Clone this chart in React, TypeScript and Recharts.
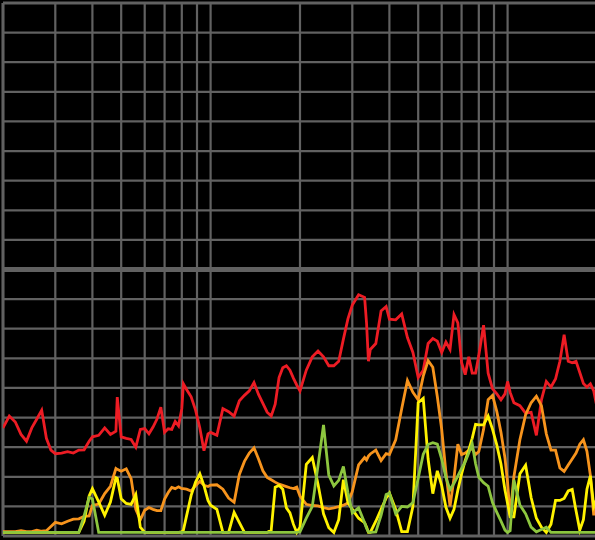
import React from 'react';
import { LineChart, Line, XAxis, YAxis, CartesianGrid, ReferenceLine } from 'recharts';

const FREQ = [20, 21, 22, 23, 24, 25, 26, 27, 28, 29, 30, 31.5, 33, 34.5, 36, 37.5, 39, 40, 42, 44, 46, 48, 48.5, 50, 52, 54, 56, 58, 60, 62, 64, 66, 68, 70, 72, 74, 76, 78, 80, 81, 83, 86, 89, 92, 95, 98, 100, 105, 110, 115, 120, 125, 130, 135, 140, 145, 150, 155, 160, 165, 170, 175, 180, 185, 190, 195, 200, 210, 220, 230, 240, 250, 260, 270, 280, 290, 300, 315, 330, 335, 340, 345, 360, 375, 390, 400, 420, 440, 460, 480, 500, 520, 540, 560, 580, 600, 620, 640, 660, 680, 700, 720, 740, 760, 780, 800, 830, 860, 890, 920, 950, 980, 1000, 1020, 1050, 1100, 1150, 1200, 1250, 1300, 1350, 1400, 1450, 1500, 1550, 1600, 1650, 1700, 1750, 1800, 1850, 1900, 1950, 2000];

const RED = [3.65, 4.05, 3.85, 3.43, 3.2, 3.65, 3.95, 4.25, 3.3, 2.9, 2.78, 2.8, 2.85, 2.8, 2.9, 2.91, 3.2, 3.35, 3.4, 3.65, 3.43, 3.54, 4.69, 3.35, 3.3, 3.26, 3.0, 3.6, 3.63, 3.45, 3.68, 3.95, 4.35, 3.5, 3.62, 3.6, 3.87, 3.72, 4.3, 5.14, 4.95, 4.7, 4.25, 3.65, 2.88, 3.45, 3.5, 3.4, 4.3, 4.2, 4.05, 4.57, 4.75, 4.9, 5.18, 4.78, 4.48, 4.18, 4.05, 4.45, 5.35, 5.68, 5.75, 5.6, 5.33, 5.1, 4.9, 5.6, 6.05, 6.25, 6.05, 5.75, 5.75, 5.9, 6.65, 7.33, 7.8, 8.15, 8.06, 7.2, 5.9, 6.3, 6.5, 7.6, 7.75, 7.32, 7.3, 7.5, 6.7, 6.2, 5.35, 5.6, 6.5, 6.67, 6.58, 6.2, 6.55, 6.3, 7.48, 7.2, 5.85, 5.45, 6.05, 5.5, 5.5, 6.1, 7.12, 5.5, 4.97, 4.8, 4.6, 4.8, 5.22, 4.85, 4.5, 4.4, 4.15, 4.18, 3.4, 4.6, 5.22, 5.03, 5.3, 5.9, 6.8, 5.9, 5.85, 5.9, 5.52, 5.15, 5.03, 5.14, 4.9, 4.34];

const ORANGE = [0.15, 0.15, 0.15, 0.18, 0.15, 0.15, 0.2, 0.16, 0.18, 0.32, 0.46, 0.41, 0.5, 0.57, 0.58, 0.66, 0.68, 1.03, 1.08, 1.43, 1.68, 2.28, 2.25, 2.19, 2.27, 1.94, 0.9, 0.55, 0.87, 0.96, 0.9, 0.86, 0.86, 1.25, 1.47, 1.64, 1.6, 1.66, 1.6, 1.6, 1.58, 1.52, 1.7, 1.85, 1.71, 1.67, 1.72, 1.73, 1.58, 1.28, 1.14, 2.08, 2.52, 2.8, 2.98, 2.6, 2.2, 1.98, 1.9, 1.82, 1.75, 1.71, 1.67, 1.63, 1.6, 1.65, 1.35, 1.07, 1.03, 1.02, 0.96, 0.92, 0.95, 0.99, 1.04, 1.11, 1.5, 2.4, 2.65, 2.57, 2.7, 2.77, 2.9, 2.55, 2.78, 2.75, 3.25, 4.3, 5.25, 4.85, 4.6, 5.4, 5.92, 5.7, 4.7, 3.6, 2.15, 1.0, 1.95, 3.1, 2.75, 2.8, 2.9, 2.95, 2.75, 2.85, 3.6, 4.6, 4.75, 4.2, 3.5, 2.63, 1.8, 0.7, 2.0, 3.25, 4.1, 4.5, 4.72, 4.4, 3.45, 2.9, 2.9, 2.3, 2.18, 2.4, 2.6, 2.8, 3.1, 3.25, 2.86, 2.05, 0.7, 1.2];

const YELLOW = [0.12, 0.12, 0.12, 0.12, 0.12, 0.12, 0.12, 0.12, 0.12, 0.12, 0.12, 0.12, 0.12, 0.12, 0.12, 0.5, 1.35, 1.6, 1.15, 0.7, 1.15, 1.97, 1.95, 1.26, 1.1, 1.07, 1.4, 0.3, 0.12, 0.12, 0.12, 0.12, 0.12, 0.12, 0.12, 0.12, 0.12, 0.12, 0.14, 0.2, 0.68, 1.37, 1.82, 2.1, 1.7, 1.2, 1.04, 0.9, 0.12, 0.12, 0.8, 0.45, 0.12, 0.12, 0.12, 0.12, 0.12, 0.12, 0.2, 1.65, 1.71, 1.58, 0.95, 0.78, 0.4, 0.12, 0.3, 2.42, 2.65, 1.75, 0.75, 0.28, 0.12, 0.55, 1.9, 1.13, 0.9, 0.6, 0.45, 0.3, 0.12, 0.12, 0.5, 0.9, 1.28, 1.45, 0.9, 0.15, 0.15, 1.0, 4.5, 4.65, 2.6, 1.43, 2.2, 1.7, 0.97, 0.6, 0.9, 1.55, 2.1, 2.55, 2.9, 3.3, 3.77, 3.75, 3.75, 4.05, 3.6, 3.07, 2.43, 1.55, 1.1, 0.65, 0.65, 2.1, 2.39, 1.3, 0.6, 0.3, 0.12, 0.4, 1.2, 1.2, 1.27, 1.52, 1.57, 0.85, 0.2, 0.55, 1.58, 2.03, 1.0, 1.26];

const GREEN = [0.12, 0.12, 0.12, 0.12, 0.12, 0.12, 0.12, 0.12, 0.12, 0.12, 0.12, 0.12, 0.12, 0.12, 0.12, 0.68, 1.3, 1.25, 0.12, 0.12, 0.12, 0.12, 0.12, 0.12, 0.12, 0.12, 0.12, 0.12, 0.12, 0.12, 0.12, 0.12, 0.12, 0.12, 0.12, 0.12, 0.12, 0.12, 0.12, 0.12, 0.12, 0.12, 0.12, 0.12, 0.12, 0.12, 0.12, 0.12, 0.12, 0.12, 0.12, 0.12, 0.12, 0.12, 0.12, 0.12, 0.12, 0.12, 0.12, 0.12, 0.12, 0.12, 0.12, 0.12, 0.12, 0.12, 0.14, 0.6, 1.0, 2.38, 3.75, 2.06, 1.69, 1.88, 2.35, 1.47, 0.78, 0.95, 0.45, 0.26, 0.14, 0.12, 0.14, 0.7, 1.4, 1.45, 0.75, 1.0, 0.98, 1.13, 1.95, 2.76, 3.09, 3.15, 3.1, 2.6, 1.97, 1.56, 1.78, 2.03, 2.28, 2.5, 2.8, 3.12, 2.45, 1.98, 1.8, 1.68, 1.12, 0.8, 0.5, 0.2, 0.12, 0.18, 1.9, 1.05, 0.75, 0.3, 0.14, 0.22, 0.3, 0.12, 0.12, 0.12, 0.12, 0.12, 0.12, 0.12, 0.12, 0.12, 0.12, 0.12, 0.12, 0.12];

const X_TICKS = [20, 30, 40, 50, 60, 70, 80, 90, 100, 200, 300, 400, 500, 600, 700, 800, 900, 1000];
const Y_TICKS = [0, 1, 2, 3, 4, 5, 6, 7, 8, 9, 10, 11, 12, 13, 14, 15, 16, 17, 18];

const data = FREQ.map((f, i) => ({
  f,
  red: RED[i],
  orange: ORANGE[i],
  yellow: YELLOW[i],
  green: GREEN[i],
}));

const GRID = '#616161';

export default function App() {
  return (
    <div
      style={{
        position: 'absolute',
        left: 0,
        top: 0,
        width: 595,
        height: 540,
        background: '#000',
        overflow: 'hidden',
      }}
    >
      <LineChart width={597} height={540} data={data} margin={{ top: 3, right: 0, bottom: 4, left: 3 }}>
        <CartesianGrid stroke={GRID} strokeWidth={2.2} />
        <XAxis
          dataKey="f"
          type="number"
          scale="log"
          domain={[20, 2000]}
          ticks={X_TICKS}
          interval={0}
          allowDataOverflow
          hide
        />
        <YAxis type="number" domain={[0, 18]} ticks={Y_TICKS} interval={0} hide />
        <ReferenceLine y={9} stroke={GRID} strokeWidth={5} />
        <ReferenceLine y={18} stroke={GRID} strokeWidth={3} />
        <ReferenceLine y={0} stroke={GRID} strokeWidth={3} />
        <ReferenceLine x={20} stroke={GRID} strokeWidth={3} />
        <Line type="linear" dataKey="red" stroke="#ed1c24" strokeWidth={2.8} dot={false} isAnimationActive={false} />
        <Line type="linear" dataKey="orange" stroke="#f7941d" strokeWidth={2.8} dot={false} isAnimationActive={false} />
        <Line type="linear" dataKey="yellow" stroke="#fff200" strokeWidth={2.8} dot={false} isAnimationActive={false} />
        <Line type="linear" dataKey="green" stroke="#8dc63f" strokeWidth={2.8} dot={false} isAnimationActive={false} />
      </LineChart>
    </div>
  );
}
